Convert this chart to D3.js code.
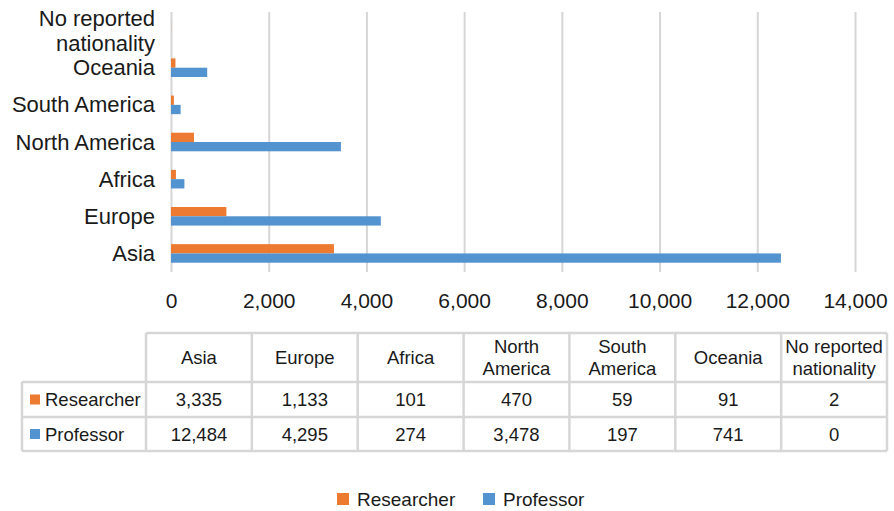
<!DOCTYPE html>
<html>
<head>
<meta charset="utf-8">
<script src="https://cdn.jsdelivr.net/npm/d3@7"></script>
<style>
  html, body { margin: 0; padding: 0; background: #fff; }
  svg { display: block; font-family: "Liberation Sans", Arial, Helvetica, sans-serif; }
</style>
</head>
<body>
<svg id="chart" width="894" height="511"></svg>
<script>
// Regions of nationality, bottom to top in the bar chart
const categories = ["Asia", "Europe", "Africa", "North America", "South America", "Oceania", "No reported nationality"];
// Line breaks used where a region name is drawn on two lines
const axisLabelLines = [["Asia"], ["Europe"], ["Africa"], ["North America"], ["South America"], ["Oceania"], ["No reported", "nationality"]];
const tableHeaderLines = [["Asia"], ["Europe"], ["Africa"], ["North", "America"], ["South", "America"], ["Oceania"], ["No reported", "nationality"]];
const seriesNames = ["Researcher", "Professor"];
const researcher = [3335, 1133, 101, 470, 59, 91, 2];
const professor = [12484, 4295, 274, 3478, 197, 741, 0];
const xTicks = [0, 2000, 4000, 6000, 8000, 10000, 12000, 14000];

const colors = { Researcher: "#ec7a30", Professor: "#5393d0" };
const gridColor = "#d6d6d6";
const fmt = d3.format(",");

const svg = d3.select("#chart");

// ---- bar chart ----
const plot = { left: 171, right: 855, top: 12, bottom: 272 };

const x = d3.scaleLinear().domain([0, 14000]).range([plot.left, plot.right]);
const y = d3.scaleBand()
  .domain(categories.slice().reverse())
  .range([plot.top, plot.bottom])
  .padding(0);
const sub = d3.scaleBand()
  .domain(seriesNames)
  .range([y.bandwidth() * 0.25, y.bandwidth() * 0.75]);

// vertical gridlines
svg.append("g")
  .attr("transform", `translate(0,${plot.bottom})`)
  .call(d3.axisBottom(x).tickValues(xTicks).tickSize(-(plot.bottom - plot.top)).tickFormat(""))
  .call(g => g.select(".domain").remove())
  .call(g => g.selectAll("line").attr("stroke", gridColor).attr("stroke-width", 2));

// tick labels
svg.append("g")
  .attr("transform", `translate(0,${plot.bottom})`)
  .call(d3.axisBottom(x).tickValues(xTicks).tickSize(0).tickPadding(0).tickFormat(fmt))
  .call(g => g.select(".domain").remove())
  .call(g => g.selectAll("text")
    .attr("y", 36)
    .attr("dy", null)
    .attr("fill", "#1a1a1a")
    .style("font-size", "21px")
    .style("font-family", "Liberation Sans, Arial, sans-serif"));

// bars
const rows = categories.map((c, i) => ({ cat: c, Researcher: researcher[i], Professor: professor[i] }));
const groups = svg.append("g").selectAll("g")
  .data(rows)
  .join("g")
  .attr("transform", d => `translate(0,${y(d.cat)})`);
groups.selectAll("rect")
  .data(d => seriesNames.map(s => ({ s, v: d[s] })))
  .join("rect")
  .attr("x", x(0))
  .attr("y", d => sub(d.s))
  .attr("width", d => x(d.v) - x(0))
  .attr("height", sub.bandwidth())
  .attr("fill", d => colors[d.s]);

// category labels
const catLabels = svg.append("g").selectAll("text")
  .data(categories)
  .join("text")
  .attr("x", 155)
  .attr("text-anchor", "end")
  .attr("fill", "#1a1a1a")
  .style("font-size", "22px");
catLabels.each(function (d, i) {
  const lines = axisLabelLines[i];
  const lh = 25;
  const cy = y(d) + y.bandwidth() / 2;
  const t = d3.select(this);
  lines.forEach((ln, k) => {
    t.append("tspan")
      .attr("x", 155)
      .attr("y", cy + (k - (lines.length - 1) / 2) * lh + 7.5)
      .text(ln);
  });
});

// ---- data table ----
const tbl = { keyLeft: 22, left: 146, right: 887, top: 333, headBottom: 382, row1Bottom: 417, bottom: 451 };
const colX = d3.scaleBand().domain(categories).range([tbl.left, tbl.right]);
const rowY = [tbl.headBottom, tbl.row1Bottom, tbl.bottom];
const tg = svg.append("g");
const lineStyle = sel => sel.attr("stroke", gridColor).attr("stroke-width", 2.5).attr("fill", "none");

// header cells (only over the data columns)
tg.append("line").call(lineStyle).attr("x1", tbl.left).attr("x2", tbl.right).attr("y1", tbl.top).attr("y2", tbl.top);
// full-width horizontal rules
rowY.forEach(yy => tg.append("line").call(lineStyle).attr("x1", tbl.keyLeft).attr("x2", tbl.right).attr("y1", yy).attr("y2", yy));
// vertical rules
tg.append("line").call(lineStyle).attr("x1", tbl.keyLeft).attr("x2", tbl.keyLeft).attr("y1", tbl.headBottom).attr("y2", tbl.bottom);
categories.concat(["_end"]).forEach((c, i) => {
  const xx = i < categories.length ? colX(c) : tbl.right;
  tg.append("line").call(lineStyle).attr("x1", xx).attr("x2", xx).attr("y1", tbl.top).attr("y2", tbl.bottom);
});

const tableFont = "18.5px";
// header text
categories.forEach((c, i) => {
  const lines = tableHeaderLines[i];
  const cx = colX(c) + colX.bandwidth() / 2;
  const cy = (tbl.top + tbl.headBottom) / 2;
  const t = tg.append("text").attr("text-anchor", "middle").attr("fill", "#1a1a1a").style("font-size", tableFont);
  lines.forEach((ln, k) => {
    t.append("tspan").attr("x", cx).attr("y", cy + (k - (lines.length - 1) / 2) * 22 + 6.5).text(ln);
  });
});

// data rows
const seriesValues = [researcher, professor];
seriesNames.forEach((s, r) => {
  const top = rowY[r], bot = rowY[r + 1];
  const cy = (top + bot) / 2;
  tg.append("rect")
    .attr("x", 30).attr("y", cy - 5).attr("width", 10).attr("height", 10)
    .attr("fill", colors[s]);
  tg.append("text")
    .attr("x", 45).attr("y", cy + 6.5)
    .attr("fill", "#1a1a1a").style("font-size", tableFont)
    .text(s);
  categories.forEach((c, i) => {
    tg.append("text")
      .attr("x", colX(c) + colX.bandwidth() / 2)
      .attr("y", cy + 6.5)
      .attr("text-anchor", "middle")
      .attr("fill", "#1a1a1a").style("font-size", tableFont)
      .text(fmt(seriesValues[r][i]));
  });
});

// ---- legend ----
const legendItems = [{ s: "Researcher", x: 337 }, { s: "Professor", x: 483 }];
const lg = svg.append("g");
legendItems.forEach(d => {
  lg.append("rect").attr("x", d.x).attr("y", 493).attr("width", 12).attr("height", 12).attr("fill", colors[d.s]);
  lg.append("text").attr("x", d.x + 20).attr("y", 505.5)
    .attr("fill", "#1a1a1a").style("font-size", "19px").text(d.s);
});
</script>
</body>
</html>
